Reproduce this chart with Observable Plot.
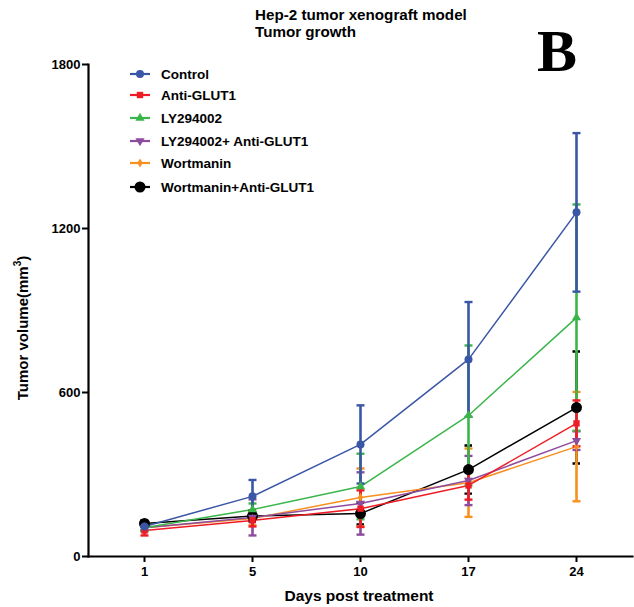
<!DOCTYPE html>
<html><head><meta charset="utf-8">
<script src="https://cdn.jsdelivr.net/npm/d3@7"></script>
<script src="https://cdn.jsdelivr.net/npm/@observablehq/plot@0.6"></script>
<style>
body{margin:0;background:#fff;font-family:"Liberation Sans",Arial,sans-serif;}
#wrap{position:relative;width:634px;height:607px;overflow:hidden;}
#wrap svg.plot{position:absolute;left:0;top:0;}
.ov{position:absolute;font-weight:bold;color:#000;white-space:nowrap;}
#title{left:255px;top:7px;font-size:15.2px;line-height:16.5px;}
#bigB{left:537px;top:16px;font-family:"Liberation Serif","Times New Roman",serif;font-size:60px;line-height:70px;}
#ylab{left:21px;top:328px;font-size:15px;transform:translate(-50%,-50%) rotate(-90deg);}
#xlab{left:359px;top:587px;font-size:15.5px;transform:translateX(-50%);}
#legend{left:128px;top:64px;font-size:13.5px;}
.row{position:absolute;left:0;height:20px;display:flex;align-items:center;}
.row svg{margin-right:9px;}
</style></head><body><div id="wrap"></div>
<script>
const days = [1, 5, 10, 17, 24];
const groups = ["Control", "Anti-GLUT1", "LY294002", "LY294002+ Anti-GLUT1", "Wortmanin", "Wortmanin+Anti-GLUT1"];
const colors = ["#3a56a6", "#ee1c25", "#3ab54a", "#8e4c9f", "#f7901e", "#000000"];
const yTicks = [0, 600, 1200, 1800];

const controlMean = [110, 220, 410, 721, 1259];
const controlSD   = [12, 60, 143, 210, 290];
const antiMean    = [95, 132, 175, 260, 487];
const antiSD      = [18, 22, 67, 52, 84];
const lyMean      = [105, 172, 256, 516, 874];
const lySD        = [12, 22, 120, 256, 414];
const lyAntiMean  = [105, 143, 194, 278, 424];
const lyAntiSD    = [12, 66, 114, 90, 34];
const wortMean    = [105, 139, 216, 270, 402];
const wortSD      = [12, 25, 106, 125, 200];
const wortAntiMean= [121, 148, 157, 318, 545];
const wortAntiSD  = [12, 20, 40, 88, 205];

const means = [controlMean, antiMean, lyMean, lyAntiMean, wortMean, wortAntiMean];
const sds = [controlSD, antiSD, lySD, lyAntiSD, wortSD, wortAntiSD];

const symbolSpec = [
  {symbol: "circle", r: 4, rotate: 0},
  {symbol: "square", r: 3.6, rotate: 0},
  {symbol: "triangle", r: 3.4, rotate: 0},
  {symbol: "triangle", r: 3.4, rotate: 180},
  {symbol: "diamond", r: 2.8, rotate: 0},
  {symbol: "circle", r: 5.5, rotate: 0}
];

// horizontal cap symbol for error bars
const capSymbol = {draw(ctx) { ctx.moveTo(-4, 0); ctx.lineTo(4, 0); }};

const series = groups.map((g, k) => days.map((d, i) => ({day: d, group: g, mean: means[k][i], sd: sds[k][i]})));
const order = [5, 4, 3, 2, 1, 0];

const marks = [];
for (const k of order) {
  marks.push(Plot.line(series[k], {x: "day", y: "mean", stroke: colors[k], strokeWidth: 1.5}));
}
for (const k of order) {
  const dash = k === 5 ? "2.5,2.5" : null;
  marks.push(Plot.ruleX(series[k], {x: "day", y1: d => d.mean - d.sd, y2: d => d.mean + d.sd, stroke: colors[k], strokeWidth: 2.6}));
  marks.push(Plot.dot(series[k], {x: "day", y: d => d.mean + d.sd, symbol: capSymbol, r: 4, stroke: colors[k], fill: "none", strokeWidth: 2.4, strokeDasharray: dash}));
  marks.push(Plot.dot(series[k], {x: "day", y: d => d.mean - d.sd, symbol: capSymbol, r: 4, stroke: colors[k], fill: "none", strokeWidth: 2.4, strokeDasharray: dash}));
}
for (const k of order) {
  const s = symbolSpec[k];
  marks.push(Plot.dot(series[k], {x: "day", y: "mean", symbol: s.symbol, r: s.r, rotate: s.rotate, fill: colors[k], stroke: "none"}));
}

const chart = Plot.plot({
  width: 634,
  height: 607,
  marginLeft: 88,
  marginRight: 2,
  marginTop: 64,
  marginBottom: 51,
  style: {background: "#fff", fontFamily: "Liberation Sans, Arial, sans-serif", overflow: "visible"},
  x: {type: "point", domain: days, padding: 0.5},
  y: {domain: [0, 1800]},
  marks: [
    Plot.axisX({tickSize: 6, tickPadding: 4, strokeWidth: 2, fontSize: 13, fontWeight: "bold", fill: "#000", label: null}),
    Plot.axisY({ticks: yTicks, tickFormat: d3.format("d"), tickSize: 6, tickPadding: 2, strokeWidth: 2, fontSize: 13, fontWeight: "bold", fill: "#000", label: null}),
    Plot.frame({anchor: "left", strokeWidth: 2.2, stroke: "#000"}),
    Plot.frame({anchor: "bottom", strokeWidth: 2.2, stroke: "#000"}),
    ...marks
  ]
});
chart.classList.add("plot");
const wrap = document.getElementById("wrap");
wrap.appendChild(chart);

function ov(id, html) {
  const d = document.createElement("div");
  d.className = "ov"; d.id = id; d.innerHTML = html;
  wrap.appendChild(d); return d;
}
ov("title", "Hep-2 tumor xenograft model<br>Tumor growth");
ov("bigB", "B");
ov("ylab", "Tumor volume(mm<sup style=\"font-size:10px;vertical-align:7px\">3</sup>)");
ov("xlab", "Days post treatment");

const legend = ov("legend", "");
const rowY = [0, 21, 44, 67, 89, 113];
groups.forEach((g, k) => {
  const row = document.createElement("div");
  row.className = "row";
  row.style.top = rowY[k] + "px";
  const s = symbolSpec[k];
  const sym = {circle: d3.symbolCircle, square: d3.symbolSquare, triangle: d3.symbolTriangle, diamond: d3.symbolDiamond}[s.symbol];
  const path = d3.symbol(sym, Math.PI * s.r * s.r)();
  row.innerHTML = `<svg width="24" height="14" viewBox="0 0 24 14"><line x1="2" x2="22" y1="7" y2="7" stroke="${colors[k]}" stroke-width="2.2"/><path d="${path}" transform="translate(12,7) rotate(${s.rotate})" fill="${colors[k]}"/></svg><span>${g}</span>`;
  legend.appendChild(row);
});
</script>
</body></html>
